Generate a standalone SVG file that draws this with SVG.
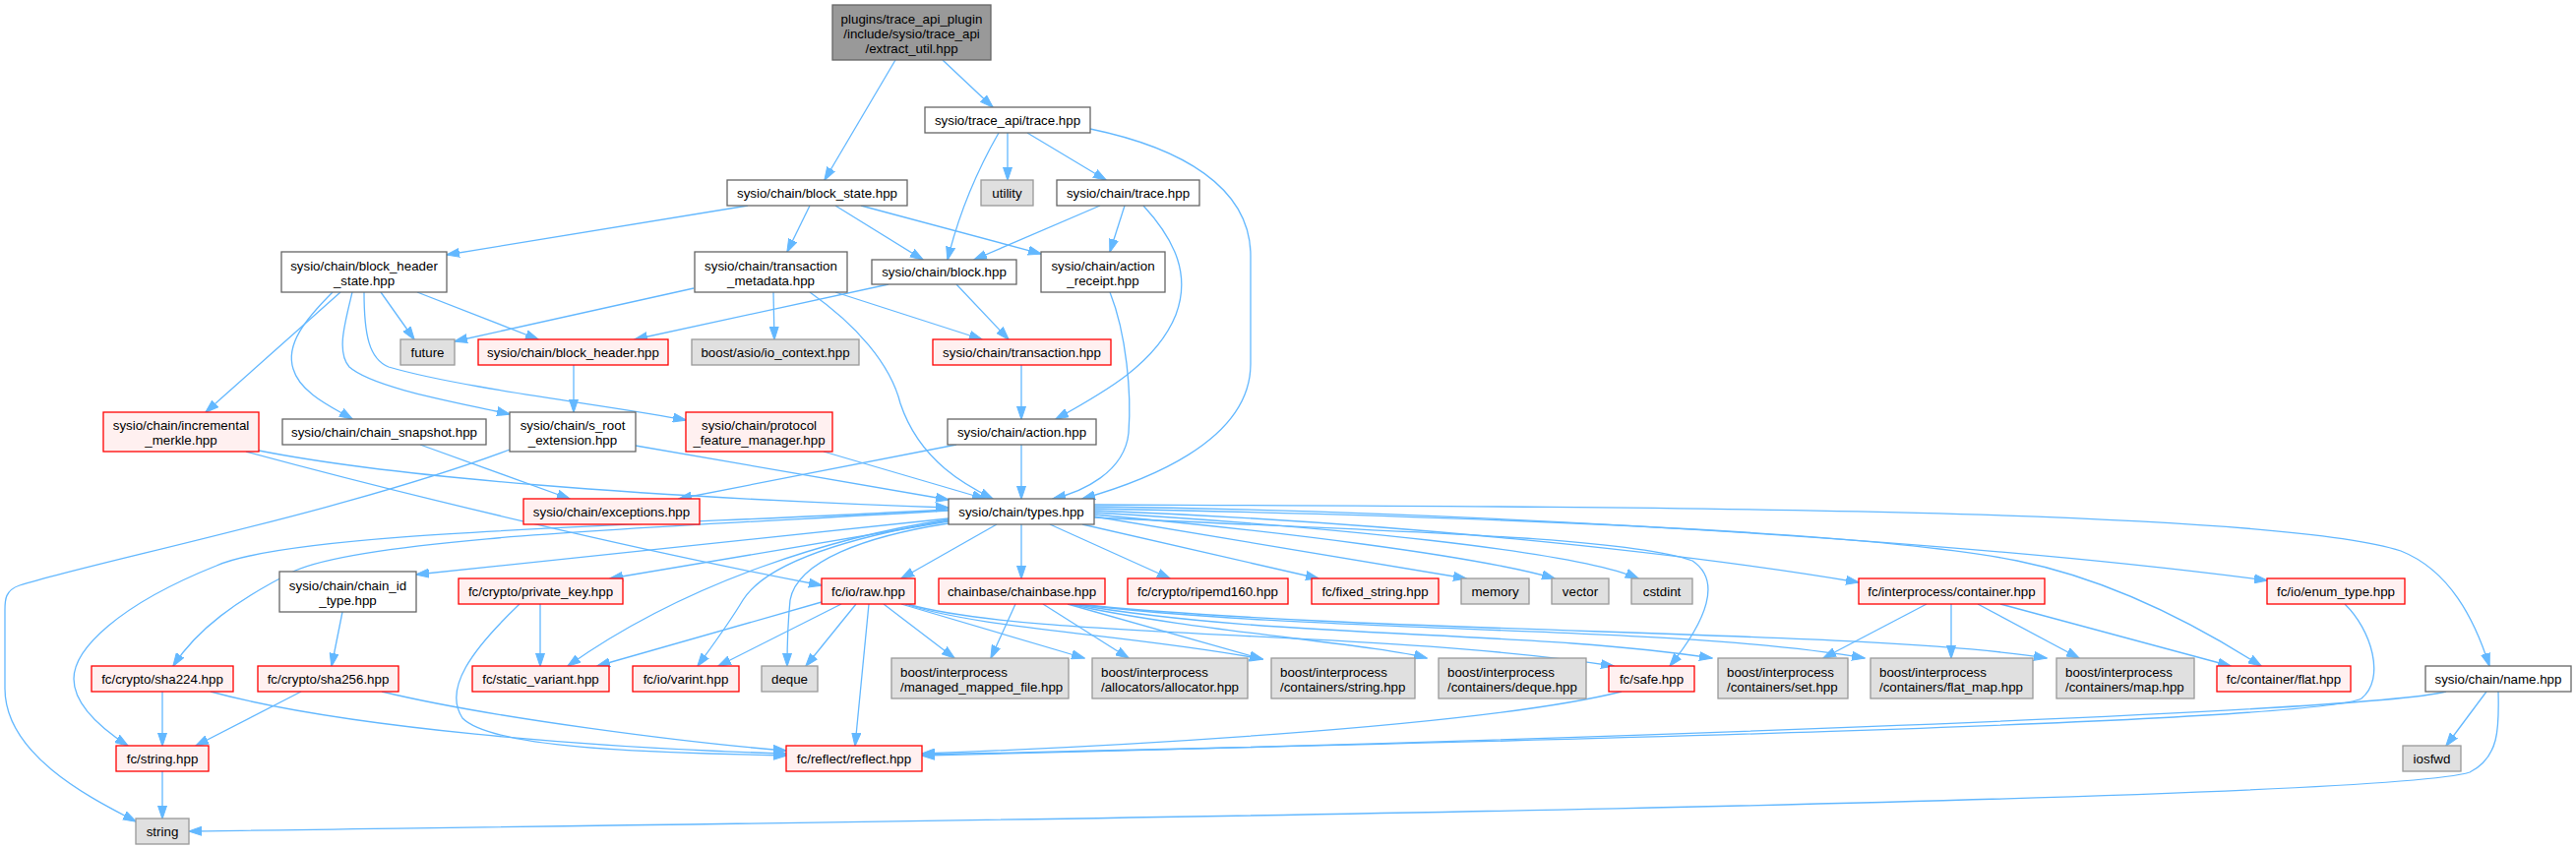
<svg xmlns="http://www.w3.org/2000/svg" width="2618" height="863" viewBox="0 0 2618 863">
<defs>
<style>
rect{stroke-width:1.3}
.w rect{fill:#fff;stroke:#666}
.g rect{fill:#e0e0e0;stroke:#999}
.r rect{fill:#fff0f0;stroke:#f00}
.root rect{fill:#999;stroke:#666}
text{font-family:"Liberation Sans",Arial,sans-serif;font-size:13.33px;fill:#000;text-anchor:middle}
text.l{text-anchor:start}
#edges path{fill:none;stroke:#63b8ff;stroke-width:1.3;marker-end:url(#ah)}
</style>
<marker id="ah" markerWidth="14" markerHeight="10" refX="13" refY="5" orient="auto" markerUnits="userSpaceOnUse"><path d="M0,0.5 L13.5,5 L0,9.5 z" fill="#63b8ff" stroke="#63b8ff" stroke-width="1"/></marker>
</defs>
<rect width="2618" height="863" fill="#fff"/>
<g id="edges">
<path d="M910,61 L838,183"/>
<path d="M958,61 L1009,109"/>
<path d="M1015,135 C995,170 975,215 963,264"/>
<path d="M1024,135 L1024,183"/>
<path d="M1044,135 L1124,183"/>
<path d="M1108,131 C1200,150 1271,190 1271,260 L1271,370 C1271,450 1160,490 1100,507"/>
<path d="M760,209 L454,259"/>
<path d="M823,209 L800,256"/>
<path d="M849,209 L938,264"/>
<path d="M875,209 L1058,258"/>
<path d="M1118,209 L990,264"/>
<path d="M1143,209 L1128,256"/>
<path d="M1162,209 C1195,245 1210,280 1195,320 C1175,370 1120,400 1073,426"/>
<path d="M387,297 L421,345"/>
<path d="M424,297 L547,345"/>
<path d="M346,297 L209,419"/>
<path d="M338,297 C310,325 290,350 298,375 C305,400 340,415 358,426"/>
<path d="M358,297 C350,330 342,358 355,373 C380,395 470,410 518,421"/>
<path d="M370,297 C370,340 375,365 395,373 C470,395 620,412 697,427"/>
<path d="M705,293 L462,347"/>
<path d="M786,297 L787,345"/>
<path d="M849,297 L998,345"/>
<path d="M823,297 C870,330 905,370 915,410 C935,470 985,495 1009,507"/>
<path d="M903,289 L645,345"/>
<path d="M972,289 L1025,345"/>
<path d="M1128,297 C1145,340 1150,400 1147,440 C1143,480 1100,500 1070,507"/>
<path d="M583,371 L583,419"/>
<path d="M1038,371 L1038,426"/>
<path d="M263,458 C400,485 650,505 964,516"/>
<path d="M250,459 C420,505 650,560 835,595"/>
<path d="M427,452 L579,507"/>
<path d="M518,457 C350,520 100,570 20,595 C5,600 5,610 5,620 L5,700 C5,770 100,815 138,835"/>
<path d="M646,453 L964,508"/>
<path d="M837,459 L1001,507"/>
<path d="M972,452 L690,507"/>
<path d="M1038,452 L1038,507"/>
<path d="M964,527 L423,584"/>
<path d="M964,530 L620,588"/>
<path d="M964,519 C700,535 380,545 300,580 C240,610 200,640 176,677"/>
<path d="M964,518 C650,535 300,540 220,575 C120,615 75,660 75,690 C75,720 110,745 130,758"/>
<path d="M964,528 C850,545 700,590 577,677"/>
<path d="M964,529 C870,545 780,570 755,610 C740,635 725,655 709,677"/>
<path d="M964,532 C880,545 810,570 803,610 C800,640 800,660 800,677"/>
<path d="M1013,533 L916,588"/>
<path d="M1038,533 L1038,588"/>
<path d="M1067,533 L1189,588"/>
<path d="M1100,533 L1340,588"/>
<path d="M1112,525 L1490,588"/>
<path d="M1112,523 C1300,540 1500,565 1580,588"/>
<path d="M1112,521 C1350,535 1600,560 1665,588"/>
<path d="M1112,526 C1400,540 1650,545 1720,570 C1750,590 1735,630 1697,677"/>
<path d="M1112,519 C1400,530 1700,560 1889,592"/>
<path d="M1112,517 C1500,525 1900,540 2050,570 C2150,590 2240,640 2298,677"/>
<path d="M1112,515 C1500,520 2000,550 2304,590"/>
<path d="M1112,513 C1600,515 2300,515 2440,560 C2490,580 2515,630 2530,677"/>
<path d="M348,622 L337,677"/>
<path d="M549,614 L549,677"/>
<path d="M528,614 C480,660 450,700 470,730 C500,760 650,765 799,768"/>
<path d="M165,703 L165,758"/>
<path d="M214,703 C350,740 600,760 799,766"/>
<path d="M306,703 L199,758"/>
<path d="M388,703 C500,730 700,755 799,763"/>
<path d="M165,784 L165,832"/>
<path d="M835,612 L607,677"/>
<path d="M855,614 L730,677"/>
<path d="M870,614 L819,677"/>
<path d="M898,614 L970,669"/>
<path d="M916,614 L1102,669"/>
<path d="M920,614 C1000,640 1150,645 1283,670"/>
<path d="M883,614 L869,758"/>
<path d="M922,614 C1050,650 1400,640 1640,677"/>
<path d="M1032,614 L1007,669"/>
<path d="M1060,614 L1147,669"/>
<path d="M1085,614 L1283,670"/>
<path d="M1087,614 C1200,640 1400,655 1450,669"/>
<path d="M1090,614 C1300,650 1550,640 1740,669"/>
<path d="M1092,614 C1350,645 1700,635 1895,669"/>
<path d="M1093,614 C1400,645 1900,640 2080,669"/>
<path d="M1958,614 L1853,669"/>
<path d="M1983,614 L1983,669"/>
<path d="M2010,614 L2113,669"/>
<path d="M2033,614 L2267,677"/>
<path d="M2383,614 C2410,640 2425,690 2400,710 C2350,735 1500,755 937,767"/>
<path d="M2486,703 C2400,725 1500,755 937,768"/>
<path d="M2527,703 L2486,758"/>
<path d="M2539,703 C2540,740 2540,770 2510,785 C2400,820 500,840 192,845"/>
<path d="M1648,703 C1500,740 1100,760 937,766"/>
</g>
<g id="n0" class="root"><rect x="846" y="5" width="161" height="56"/><text x="926.5" y="23.5">plugins/trace_api_plugin</text><text x="926.5" y="38.5">/include/sysio/trace_api</text><text x="926.5" y="53.5">/extract_util.hpp</text></g>
<g id="n1" class="w"><rect x="940" y="109" width="168" height="26"/><text x="1024" y="126.5">sysio/trace_api/trace.hpp</text></g>
<g id="n2" class="w"><rect x="739" y="183" width="183" height="26"/><text x="830.5" y="200.5">sysio/chain/block_state.hpp</text></g>
<g id="n3" class="g"><rect x="997" y="183" width="53" height="26"/><text x="1023.5" y="200.5">utility</text></g>
<g id="n4" class="w"><rect x="1074" y="183" width="145" height="26"/><text x="1146.5" y="200.5">sysio/chain/trace.hpp</text></g>
<g id="n5" class="w"><rect x="286" y="256" width="168" height="41"/><text x="370" y="274.5">sysio/chain/block_header</text><text x="370" y="289.5">_state.hpp</text></g>
<g id="n6" class="w"><rect x="706" y="256" width="155" height="41"/><text x="783.5" y="274.5">sysio/chain/transaction</text><text x="783.5" y="289.5">_metadata.hpp</text></g>
<g id="n7" class="w"><rect x="886" y="264" width="147" height="25"/><text x="959.5" y="281">sysio/chain/block.hpp</text></g>
<g id="n8" class="w"><rect x="1058" y="256" width="126" height="41"/><text x="1121" y="274.5">sysio/chain/action</text><text x="1121" y="289.5">_receipt.hpp</text></g>
<g id="n9" class="g"><rect x="407" y="345" width="55" height="26"/><text x="434.5" y="362.5">future</text></g>
<g id="n10" class="r"><rect x="486" y="345" width="193" height="26"/><text x="582.5" y="362.5">sysio/chain/block_header.hpp</text></g>
<g id="n11" class="g"><rect x="703" y="345" width="170" height="26"/><text x="788" y="362.5">boost/asio/io_context.hpp</text></g>
<g id="n12" class="r"><rect x="948" y="345" width="181" height="26"/><text x="1038.5" y="362.5">sysio/chain/transaction.hpp</text></g>
<g id="n13" class="r"><rect x="105" y="419" width="158" height="40"/><text x="184" y="437">sysio/chain/incremental</text><text x="184" y="452">_merkle.hpp</text></g>
<g id="n14" class="w"><rect x="287" y="426" width="207" height="26"/><text x="390.5" y="443.5">sysio/chain/chain_snapshot.hpp</text></g>
<g id="n15" class="w"><rect x="518" y="419" width="128" height="40"/><text x="582" y="437">sysio/chain/s_root</text><text x="582" y="452">_extension.hpp</text></g>
<g id="n16" class="r"><rect x="697" y="419" width="149" height="40"/><text x="771.5" y="437">sysio/chain/protocol</text><text x="771.5" y="452">_feature_manager.hpp</text></g>
<g id="n17" class="w"><rect x="963" y="426" width="151" height="26"/><text x="1038.5" y="443.5">sysio/chain/action.hpp</text></g>
<g id="n18" class="r"><rect x="532" y="507" width="179" height="26"/><text x="621.5" y="524.5">sysio/chain/exceptions.hpp</text></g>
<g id="n19" class="w"><rect x="964" y="507" width="148" height="26"/><text x="1038" y="524.5">sysio/chain/types.hpp</text></g>
<g id="n20" class="w"><rect x="284" y="581" width="139" height="41"/><text x="353.5" y="599.5">sysio/chain/chain_id</text><text x="353.5" y="614.5">_type.hpp</text></g>
<g id="n21" class="r"><rect x="466" y="588" width="167" height="26"/><text x="549.5" y="605.5">fc/crypto/private_key.hpp</text></g>
<g id="n22" class="r"><rect x="835" y="588" width="95" height="26"/><text x="882.5" y="605.5">fc/io/raw.hpp</text></g>
<g id="n23" class="r"><rect x="954" y="588" width="169" height="26"/><text x="1038.5" y="605.5">chainbase/chainbase.hpp</text></g>
<g id="n24" class="r"><rect x="1146" y="588" width="163" height="26"/><text x="1227.5" y="605.5">fc/crypto/ripemd160.hpp</text></g>
<g id="n25" class="r"><rect x="1333" y="588" width="129" height="26"/><text x="1397.5" y="605.5">fc/fixed_string.hpp</text></g>
<g id="n26" class="g"><rect x="1485" y="588" width="69" height="26"/><text x="1519.5" y="605.5">memory</text></g>
<g id="n27" class="g"><rect x="1577" y="588" width="58" height="26"/><text x="1606" y="605.5">vector</text></g>
<g id="n28" class="g"><rect x="1658" y="588" width="62" height="26"/><text x="1689" y="605.5">cstdint</text></g>
<g id="n29" class="r"><rect x="1889" y="588" width="189" height="26"/><text x="1983.5" y="605.5">fc/interprocess/container.hpp</text></g>
<g id="n30" class="r"><rect x="2304" y="588" width="140" height="26"/><text x="2374" y="605.5">fc/io/enum_type.hpp</text></g>
<g id="n31" class="w"><rect x="2465" y="677" width="148" height="26"/><text x="2539" y="694.5">sysio/chain/name.hpp</text></g>
<g id="n32" class="r"><rect x="93" y="677" width="144" height="26"/><text x="165" y="694.5">fc/crypto/sha224.hpp</text></g>
<g id="n33" class="r"><rect x="262" y="677" width="143" height="26"/><text x="333.5" y="694.5">fc/crypto/sha256.hpp</text></g>
<g id="n34" class="r"><rect x="480" y="677" width="139" height="26"/><text x="549.5" y="694.5">fc/static_variant.hpp</text></g>
<g id="n35" class="r"><rect x="643" y="677" width="108" height="26"/><text x="697" y="694.5">fc/io/varint.hpp</text></g>
<g id="n36" class="g"><rect x="774" y="677" width="57" height="26"/><text x="802.5" y="694.5">deque</text></g>
<g id="n37" class="g"><rect x="906" y="669" width="180" height="41"/><text class="l" x="915" y="687.5">boost/interprocess</text><text class="l" x="915" y="702.5">/managed_mapped_file.hpp</text></g>
<g id="n38" class="g"><rect x="1110" y="669" width="158" height="41"/><text class="l" x="1119" y="687.5">boost/interprocess</text><text class="l" x="1119" y="702.5">/allocators/allocator.hpp</text></g>
<g id="n39" class="g"><rect x="1292" y="669" width="146" height="41"/><text class="l" x="1301" y="687.5">boost/interprocess</text><text class="l" x="1301" y="702.5">/containers/string.hpp</text></g>
<g id="n40" class="g"><rect x="1462" y="669" width="150" height="41"/><text class="l" x="1471" y="687.5">boost/interprocess</text><text class="l" x="1471" y="702.5">/containers/deque.hpp</text></g>
<g id="n41" class="r"><rect x="1635" y="677" width="87" height="26"/><text x="1678.5" y="694.5">fc/safe.hpp</text></g>
<g id="n42" class="g"><rect x="1746" y="669" width="132" height="41"/><text class="l" x="1755" y="687.5">boost/interprocess</text><text class="l" x="1755" y="702.5">/containers/set.hpp</text></g>
<g id="n43" class="g"><rect x="1901" y="669" width="165" height="41"/><text class="l" x="1910" y="687.5">boost/interprocess</text><text class="l" x="1910" y="702.5">/containers/flat_map.hpp</text></g>
<g id="n44" class="g"><rect x="2090" y="669" width="140" height="41"/><text class="l" x="2099" y="687.5">boost/interprocess</text><text class="l" x="2099" y="702.5">/containers/map.hpp</text></g>
<g id="n45" class="r"><rect x="2253" y="677" width="136" height="26"/><text x="2321" y="694.5">fc/container/flat.hpp</text></g>
<g id="n46" class="g"><rect x="2442" y="758" width="59" height="26"/><text x="2471.5" y="775.5">iosfwd</text></g>
<g id="n47" class="r"><rect x="118" y="758" width="94" height="26"/><text x="165" y="775.5">fc/string.hpp</text></g>
<g id="n48" class="r"><rect x="799" y="758" width="138" height="26"/><text x="868" y="775.5">fc/reflect/reflect.hpp</text></g>
<g id="n49" class="g"><rect x="138" y="832" width="54" height="26"/><text x="165" y="849.5">string</text></g>
</svg>
